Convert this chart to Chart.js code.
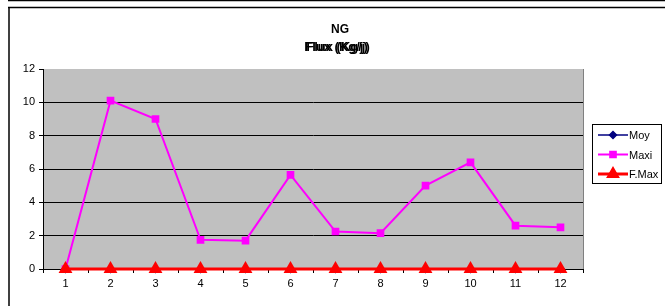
<!DOCTYPE html>
<html><head><meta charset="utf-8">
<script src="https://cdn.jsdelivr.net/npm/chart.js@4/dist/chart.umd.min.js"></script>
<style>html,body{margin:0;padding:0;background:#fff}#wrap{width:665px;height:306px}</style>
</head><body><div id="wrap"><canvas id="c" width="665" height="306"></canvas></div>
<script>
const categories = ['1','2','3','4','5','6','7','8','9','10','11','12'];
const moy  = [0,0,0,0,0,0,0,0,0,0,0,0];
const maxi = [0,10.1,9.0,1.75,1.7,5.65,2.25,2.15,5.0,6.4,2.6,2.5];
const fmax = [0,0,0,0,0,0,0,0,0,0,0,0];
const seriesNames = ['Moy','Maxi','F.Max'];
const titleLines = ['NG','Flux (Kg/j)'];
const yMin = 0, yMax = 12, yStep = 2;

const FONT = '"Liberation Sans", Arial, sans-serif';

const decor = {
  id: 'decor',
  beforeDraw(chart) {
    const {ctx, chartArea: a} = chart;
    ctx.save();
    ctx.fillStyle = '#c0c0c0';
    ctx.fillRect(a.left, a.top, a.right - a.left, a.bottom - a.top);
    ctx.restore();
  },
  afterDraw(chart) {
    const {ctx, chartArea: a} = chart;
    ctx.save();
    ctx.strokeStyle = '#000'; ctx.lineWidth = 1.5;
    ctx.beginPath(); ctx.moveTo(8, 0.5); ctx.lineTo(665, 0.5); ctx.stroke();
    ctx.beginPath(); ctx.moveTo(8, 7.5); ctx.lineTo(665, 7.5); ctx.stroke();
    ctx.beginPath(); ctx.moveTo(9, 7); ctx.lineTo(9, 306); ctx.stroke();
    ctx.strokeStyle = '#808080'; ctx.lineWidth = 1;
    ctx.beginPath(); ctx.moveTo(a.right + 0.5, a.top); ctx.lineTo(a.right + 0.5, a.bottom); ctx.stroke();
    ctx.fillStyle = '#000';
    ctx.textAlign = 'center'; ctx.textBaseline = 'middle';
    ctx.font = 'bold 12px ' + FONT;
    ctx.fillText(titleLines[0], 340, 30);
    ctx.font = 'bold 13px ' + FONT;
    ctx.fillText(titleLines[1], 336, 47);
    ctx.fillText(titleLines[1], 338, 47);
    const lx = 592, ly = 124, lw = 69, lh = 59;
    ctx.strokeStyle = '#000'; ctx.lineWidth = 1;
    ctx.strokeRect(lx + 0.5, ly + 0.5, lw, lh);
    ctx.font = '11px ' + FONT; ctx.textAlign = 'left';
    chart.data.datasets.forEach((ds, i) => {
      const y = ly + 11 + i * 19.5;
      ctx.strokeStyle = ds.borderColor; ctx.lineWidth = ds.borderWidth;
      ctx.beginPath(); ctx.moveTo(lx + 6, y); ctx.lineTo(lx + 36, y); ctx.stroke();
      ctx.fillStyle = ds.pointBackgroundColor;
      ctx.strokeStyle = ds.pointBackgroundColor;
      Chart.helpers.drawPoint(ctx, {pointStyle: ds.pointStyle, radius: ds.pointRadius, rotation: 0, borderWidth: 1}, lx + 21, y);
      ctx.fillStyle = '#000';
      ctx.fillText(ds.label, lx + 37, y + 1);
    });
    ctx.restore();
  }
};

new Chart(document.getElementById('c'), {
  type: 'line',
  data: {
    labels: categories,
    datasets: [
      {label: seriesNames[0], data: moy, borderColor: '#000080', backgroundColor: '#000080',
       pointBackgroundColor: '#000080', pointBorderColor: '#000080', borderWidth: 1.5,
       pointStyle: 'rectRot', pointRadius: 3.5, order: 3, clip: false},
      {label: seriesNames[1], data: maxi, borderColor: '#ff00ff', backgroundColor: '#ff00ff',
       pointBackgroundColor: '#ff00ff', pointBorderColor: '#ff00ff', borderWidth: 2,
       pointStyle: 'rect', pointRadius: 4, order: 2, clip: false},
      {label: seriesNames[2], data: fmax, borderColor: '#ff0000', backgroundColor: '#ff0000',
       pointBackgroundColor: '#ff0000', pointBorderColor: '#ff0000', borderWidth: 3,
       pointStyle: 'triangle', pointRadius: 5, order: 1, clip: false}
    ]
  },
  options: {
    responsive: false, animation: false, devicePixelRatio: 1,
    layout: {padding: {left: 9, top: 69, right: 82, bottom: 17}},
    plugins: {legend: {display: false}, title: {display: false}, tooltip: {enabled: false}},
    elements: {line: {tension: 0}},
    scales: {
      x: {
        type: 'category', offset: true,
        grid: {offset: true, drawOnChartArea: false, drawTicks: true, tickLength: 4, color: '#000'},
        border: {color: '#000', width: 1},
        ticks: {color: '#000', font: {family: FONT, size: 11}, padding: 4, maxRotation: 0},
        afterFit: s => { s.height = 20; }
      },
      y: {
        min: yMin, max: yMax,
        grid: {color: ctx => (ctx.tick && ctx.tick.value === yMax) ? 'rgba(0,0,0,0)' : '#000',
               tickColor: '#000', tickLength: 4, lineWidth: 1},
        border: {color: '#000', width: 1},
        ticks: {stepSize: yStep, color: '#000', font: {family: FONT, size: 11}, padding: 4},
        afterFit: s => { s.width = 34; }
      }
    }
  },
  plugins: [decor]
});
</script>
</body></html>
